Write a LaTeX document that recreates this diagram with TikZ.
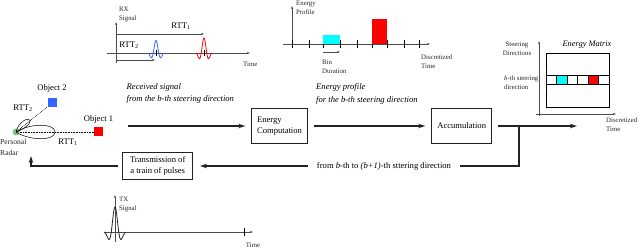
\documentclass[tikz,border=0pt]{standalone}
\usepackage{fontspec}
\setmainfont{Liberation Serif}
\usetikzlibrary{positioning,arrows.meta}
\definecolor{pulsered}{HTML}{FF0000}
\definecolor{pulseblue}{HTML}{3366FF}
\definecolor{bincyan}{HTML}{00FFFF}
\definecolor{radargreen}{HTML}{7DC87D}
\definecolor{ink}{HTML}{222222}

\begin{document}
\begin{tikzpicture}[
  x=1pt, y=-1pt,
  block/.style={rectangle, draw=ink, line width=0.8pt, minimum height=35pt, align=left, font=\fontsize{8.6}{10.5}\selectfont},
  flow/.style={-{Stealth[length=7pt,width=4.5pt]}, line width=1.3pt, draw=ink, shorten <=6pt, shorten >=6pt},
  axis/.style={-{Stealth[length=3pt,width=2pt]}, line width=0.5pt, draw=black!70},
  small/.style={font=\fontsize{6.8}{9}\selectfont, align=left, text=black!85, inner sep=0pt},
  note/.style={font=\fontsize{8.6}{12.5}\selectfont\itshape, align=left, inner sep=0pt},
  lbl/.style={font=\fontsize{8.6}{10}\selectfont, inner sep=0pt},
  target/.style={rectangle, minimum size=9pt, inner sep=0pt}
]
\useasboundingbox (0,0) rectangle (640,248);

% radar scene
\node[circle, fill=radargreen, minimum size=7pt, inner sep=0pt] (radar) at (16,132) {};
\node[target, fill=pulsered] (obj1) at (98.5,132) {};
\node[target, fill=pulseblue] (obj2) at (52,103) {};
\draw[densely dotted, line width=0.6pt] (radar) -- (obj1);
\draw[densely dotted, line width=0.6pt] (radar) -- (obj2);
\draw[line width=0.5pt] (16,132) .. controls (30,123) and (55,123) .. (55,132)
  .. controls (55,141) and (30,141) .. (16,132);
\draw[line width=0.5pt] (16,132) .. controls (18,123) and (27,117) .. (30,120)
  .. controls (32,123) and (23,130) .. (16,132);
\node[lbl] (obj2lbl) at (52,88) {Object 2};
\node[lbl] (obj1lbl) at (98.5,119) {Object 1};
\node[lbl] (rtt2lbl) at (23,108) {RTT\textsubscript{2}};
\node[lbl] (rtt1lbl) at (68,142) {RTT\textsubscript{1}};
\node[small, font=\fontsize{7.6}{11}\selectfont, anchor=north west] (radarlbl) at (0,139) {Personal\\Radar};

% processing chain
\node[block, minimum width=55.6pt] (energy) at (279.5,126) {Energy\\Computation};
\node[block, minimum width=60pt] (accum) at (461.7,126) {Accumulation};
\node[block, align=center, minimum width=70pt, minimum height=26.7pt] (trans) at (157.7,166) {Transmission of\\a train of pulses};
\coordinate (rxin) at (128,126);
\coordinate (out) at (577,126);
\coordinate (junction) at (519,126);
\coordinate (txtip) at (31,156);

\node[note, anchor=west] (rxnote) at (126.5,93.5) {Received signal\\from the b-th steering direction};
\node[note, anchor=west] (epnote) at (316,94) {Energy profile\\for the b-th steering direction};
\node[lbl, inner xsep=9pt] (loopnote) at (384,166) {from \textit{b}-th to \textit{(b+1)}-th sttering direction};

\draw[flow, shorten <=0pt] (rxin) -- (energy);
\draw[flow] (energy) -- (accum);
\draw[flow, shorten >=0pt] (accum) -- (out);
\draw[line width=1.3pt, draw=ink] (junction) |- (loopnote.east);
\draw[flow, shorten <=0pt, shorten >=7pt] (loopnote.west) -- (trans.east);
\draw[flow, shorten <=4pt, shorten >=0pt] (trans.west) -| (txtip);

% RX signal
\draw[axis] (116,63) -- (116,22);
\draw[axis] (107,53) -- (250,53);
\draw[axis] (116,34) -- (204,34);
\draw[axis] (116,60) -- (155,60);
\draw[line width=0.5pt] (156,50) -- (156,56) (204,50) -- (204,56);
\draw[pulseblue, line width=0.8pt, smooth, samples=60, domain=-8:8]
  plot ({156+\x},{53-12.5*exp(-(\x/5)^2)*cos(\x*360/11)});
\draw[pulsered, line width=0.8pt, smooth, samples=60, domain=-8:8]
  plot ({204+\x},{53-15*exp(-(\x/5)^2)*cos(\x*360/11)});
\node[lbl] (rtt1top) at (181,26) {RTT\textsubscript{1}};
\node[lbl] (rtt2top) at (129,45) {RTT\textsubscript{2}};
\node[small, anchor=west] (rxlbl) at (119,14.5) {RX\\Signal};
\node[small, anchor=west] (rxtime) at (243,64) {Time};

% energy profile
\draw[axis] (292,46) -- (292,6);
\draw[axis] (283,44) -- (430,44);
\foreach \tx in {292,309,323,340,357,372,387,404,419}
  \draw[line width=0.5pt] (\tx,40.5) -- (\tx,48);
\fill[bincyan] (323,44) rectangle (340,35);
\fill[pulsered] (372,44) rectangle (387,19);
\draw[axis] (323,52) -- (340,52);
\node[small, anchor=west] (eplbl) at (296,7.5) {Energy\\Profile};
\node[small, anchor=west] (binlbl) at (322,67) {Bin\\Duration};
\node[small, anchor=west] (eptime) at (421,62) {Discretized\\Time};

% energy matrix
\draw[axis] (539,116) -- (539,41);
\draw[axis] (536,114) -- (616,114);
\draw[line width=0.6pt] (546,53) rectangle (609,107);
\fill[bincyan] (556.7,75) rectangle (567.3,84);
\fill[pulsered] (588,75) rectangle (598.3,84);
\draw[line width=0.6pt] (546,75) rectangle (609,84);
\foreach \cx in {556.7,567.3,577.3,588,598.3}
  \draw[line width=0.6pt] (\cx,75) -- (\cx,84);
\node[lbl, font=\fontsize{8.4}{10}\selectfont\itshape] (emlbl) at (587,45) {Energy Matrix};
\node[small, align=center] (sdlbl) at (517,49) {Steering\\Directions};
\node[small, anchor=west] (bthlbl) at (504,83) {\textit{b}-th steering\\direction};
\node[small, anchor=west] (emtime) at (606,125) {Discretized\\Time};

% TX signal
\draw[axis] (115,242) -- (115,195);
\draw[axis] (105,232) -- (253,232);
\draw[line width=0.5pt] (244,228) -- (244,236);
\draw[ink, line width=0.8pt, smooth, samples=70, domain=-11:11]
  plot ({115+\x},{232-25*exp(-(\x/6)^2)*cos(\x*360/15)});
\node[small, anchor=west] (txlbl) at (119,204.5) {TX\\Signal};
\node[small] (txtime) at (253,245) {Time};
\end{tikzpicture}
\end{document}
